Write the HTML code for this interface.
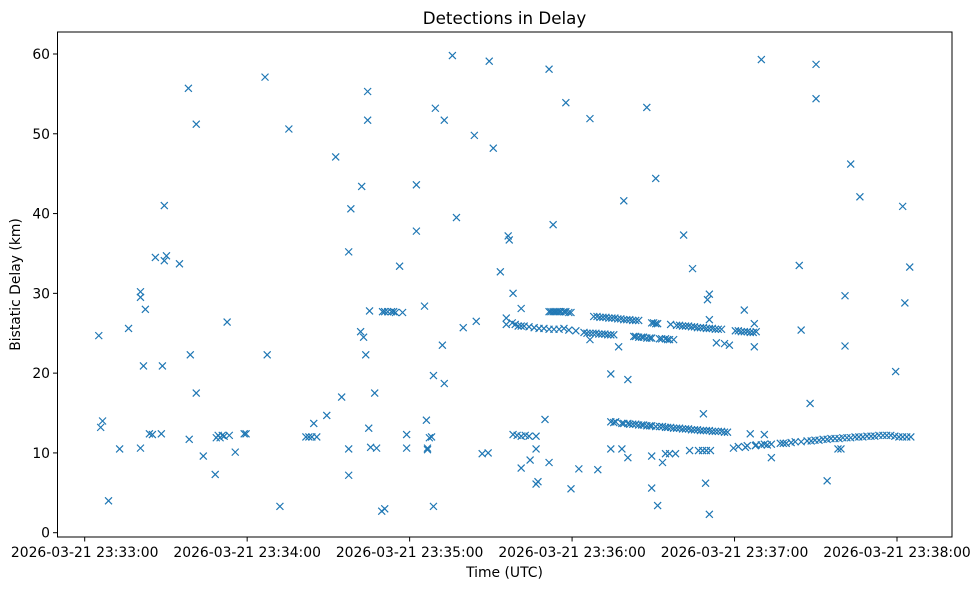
<!DOCTYPE html>
<html><head><meta charset="utf-8"><style>
html,body{margin:0;padding:0;background:#fff;}
svg{display:block;font-family:"DejaVu Sans","Liberation Sans",sans-serif;}
</style></head><body>
<svg id="chart" width="980" height="590" viewBox="0 0 980 590" xmlns="http://www.w3.org/2000/svg">
<rect x="0" y="0" width="980" height="590" fill="#fff"/>
<text x="504.5" y="24" font-size="16.7" text-anchor="middle" fill="#000">Detections in Delay</text>
<text x="504.5" y="577" font-size="13.9" text-anchor="middle" fill="#000">Time (UTC)</text>
<text x="20" y="284.5" font-size="13.9" text-anchor="middle" fill="#000" transform="rotate(-90 20 284.5)">Bistatic Delay (km)</text>
<g id="marks"></g>
<g id="axes"></g>
<rect x="57.5" y="32" width="894.5" height="505" fill="none" stroke="#000" stroke-width="1"/>
</svg>
<script>
// seconds after 2026-03-21 23:33:00
const times = [5.2,5.9,6.6,8.8,12.9,16.2,20.6,20.6,20.6,21.7,22.4,23.9,25,26.1,28.3,28.7,29.4,29.4,30.2,35,38.3,38.6,39,41.2,41.2,43.8,48.2,48.6,49.3,50,50.8,51.5,52.6,53.4,55.6,58.9,59.6,66.6,67.4,72.1,75.4,81.7,82.8,83.9,84.6,85.7,89.4,92.7,94.9,97.5,97.5,97.5,98.3,101.9,102.3,103,103.8,104.5,104.5,104.9,105.2,105.6,107.1,107.8,109.7,110.8,110,110.8,111.9,113.3,114.1,114.8,116.3,117.4,118.9,118.9,122.5,122.5,125.5,126.2,126.6,126.6,127.3,128.1,128.8,128.8,129.5,132.1,132.8,132.8,135.8,137.3,139.8,143.9,144.6,146.8,149,149.4,150.9,153.5,156.4,156.8,158.2,161.2,155.7,155.7,
158.2,159.7,161.2,162.7,164.1,166.7,161.2,164.5,166.7,166.7,167.4,170,171.5,171.5,173,177.7,179.6,182.5,186.6,189.5,194.3,200.6,194.3,198.4,200.6,199.1,197.2,186.6,207.6,210.9,209.4,209.4,211.6,213.4,214.5,216,218.2,221.2,224.5,223.4,226.7,228.2,229.6,231.1,228.5,229.3,230.7,230,230.7,230.7,233.3,236.3,238.1,243.6,247.3,247.3,239.6,244,245.8,247.7,251,253.6,249.9,263.9,264.6,267.9,270.1,270.1,274.2,282.9,286.3,280.8,280.8,278.2,279.3,302.1,304.7,302.9,299.5,
171.5,172.2,173,173.7,174.4,175.2,175.9,177,177.7,178.8,179.6,
157.9,159,160.1,161.2,162.3,164.1,166,167.8,169.6,171.5,173.3,175.2,177,178.8,181.4,
184.4,185.5,186.6,187.7,188.8,189.9,191,192.1,193.2,194.3,195.4,
188,189.2,190.3,191.4,192.5,193.6,194.7,195.8,196.9,198,199.1,200.2,201.3,202.4,203.5,204.6,209.4,210.1,210.9,211.6,
202.8,203.5,204.6,205.7,206.4,207.6,208.7,209.4,212.3,213.1,214.5,215.3,216,217.5,
216.4,218.6,219.7,220.8,221.9,223,224.1,225.2,226.3,227.4,228.5,229.6,230.7,231.8,232.9,234,235.2,
240.3,241.4,242.5,243.6,244.7,245.8,246.9,248,
194.3,195.4,196.1,198.4,199.1,200.6,201.3,202.4,203.5,204.6,205.7,206.4,207.6,208.7,209.4,210.9,212.3,213.4,214.5,215.3,216.4,217.5,218.6,219.7,220.8,221.9,223,224.1,225.2,226.3,227.4,228.5,229.6,230.7,231.8,232.9,234,235.2,236.3,237.4,
241.4,244.7,248,249.9,251,252.1,253.6,
256.9,258,259.1,260.9,262.4,264.6,266.8,268.3,269.7,271.2,272.7,274.2,275.6,277.1,278.6,280,281.5,282.9,284.5,285.9,287.4,288.9,290.4,291.8,293.3,294.8,296.2,297.7,299.2,300.7,302.1,303.6,305.1];
const delays = [24.7,13.2,14,4,10.5,25.6,10.6,29.5,30.2,20.9,28,12.4,12.3,34.5,12.4,20.9,34.1,41,34.7,33.7,55.7,11.7,22.3,51.2,17.5,9.6,7.3,11.9,12.2,11.9,12.2,12.1,26.4,12.2,10.1,12.4,12.4,57.1,22.3,3.3,50.6,12,12,12,13.7,12,14.7,47.1,17,7.2,35.2,10.5,40.6,25.2,43.4,24.5,22.3,55.3,51.7,13.1,27.8,10.7,17.5,10.6,2.7,3,27.7,27.7,27.7,27.7,27.7,27.6,33.4,27.6,12.3,10.6,43.6,37.8,28.4,14.1,10.6,10.4,11.9,12,3.3,19.7,53.2,23.5,51.7,18.7,59.8,39.5,25.7,49.8,26.5,9.9,10,59.1,48.2,32.7,37.2,36.7,30,28.1,26.9,26.1,
12.3,12.2,12.1,12.2,12.1,12.1,8.1,9.1,10.5,6.1,6.4,14.2,8.8,58.1,38.6,53.9,5.5,8.0,51.9,7.9,19.9,19.2,10.5,10.5,9.4,41.6,23.3,24.2,53.3,44.4,9.6,5.6,3.4,8.8,9.9,9.9,9.9,37.3,33.1,10.3,10.3,10.3,10.3,10.3,14.9,6.2,2.3,29.2,29.9,26.7,23.8,23.7,23.5,27.9,26.2,23.3,10.6,10.7,12.4,10.9,12.3,9.4,59.3,33.5,25.4,16.2,58.7,54.4,6.5,46.2,42.1,29.7,23.4,10.5,10.5,40.9,33.3,28.8,20.2,
27.7,27.7,27.7,27.7,27.7,27.7,27.7,27.7,27.7,27.6,27.6,
26.3,26.1,25.9,25.9,25.9,25.8,25.7,25.6,25.6,25.5,25.5,25.5,25.6,25.4,25.3,
25.1,25.0,25.0,25.0,25.0,24.9,24.9,24.9,24.8,24.8,24.8,
27.1,27.1,27,27,27,26.9,26.9,26.9,26.8,26.8,26.7,26.7,26.7,26.6,26.6,26.6,26.3,26.3,26.2,26.2,
24.6,24.6,24.5,24.5,24.5,24.4,24.4,24.4,24.3,24.3,24.3,24.2,24.2,24.2,
26.1,26,26,25.9,25.9,25.9,25.8,25.8,25.7,25.7,25.7,25.6,25.6,25.6,25.5,25.5,25.5,
25.3,25.3,25.2,25.2,25.2,25.1,25.1,25.2,
13.9,13.8,13.9,13.7,13.7,13.7,13.6,13.6,13.6,13.5,13.5,13.5,13.4,13.4,13.4,13.3,13.3,13.3,13.2,13.2,13.2,13.1,13.1,13.1,13.0,13.0,13.0,12.9,12.9,12.9,12.8,12.8,12.8,12.8,12.7,12.7,12.7,12.7,12.6,12.6,
10.8,10.9,11.0,11.0,11.1,11.0,11.1,
11.2,11.2,11.2,11.3,11.4,11.4,11.5,11.5,11.6,11.6,11.7,11.7,11.8,11.8,11.8,11.9,11.9,11.9,12.0,12.0,12.0,12.1,12.1,12.1,12.2,12.2,12.2,12.2,12.1,12.0,12.0,12.0,12.0];
const xTickValues = [0,60,120,180,240,300];
const xTickLabels = ["2026-03-21 23:33:00","2026-03-21 23:34:00","2026-03-21 23:35:00","2026-03-21 23:36:00","2026-03-21 23:37:00","2026-03-21 23:38:00"];
const yTickValues = [0,10,20,30,40,50,60];

const NS = "http://www.w3.org/2000/svg";
function xScale(s){ return 84.7 + s * (897 - 84.7) / 300; }
function yScale(v){ return 532.7 - v * (532.7 - 54) / 60; }

const marks = document.getElementById('marks');
for (let i = 0; i < times.length; i++) {
  const cx = xScale(times[i]), cy = yScale(delays[i]);
  const p = document.createElementNS(NS, 'path');
  p.setAttribute('d', `M${cx-3.5},${cy-3.5}L${cx+3.5},${cy+3.5}M${cx-3.5},${cy+3.5}L${cx+3.5},${cy-3.5}`);
  p.setAttribute('stroke', '#1f77b4');
  p.setAttribute('stroke-width', '1.2');
  p.setAttribute('fill', 'none');
  
  
  marks.appendChild(p);
}
const axes = document.getElementById('axes');
for (let i = 0; i < xTickValues.length; i++) {
  const x = xScale(xTickValues[i]);
  const l = document.createElementNS(NS, 'line');
  l.setAttribute('x1', x); l.setAttribute('x2', x); l.setAttribute('y1', 537); l.setAttribute('y2', 541.5);
  l.setAttribute('stroke', '#000');
  
  
  axes.appendChild(l);
  const t = document.createElementNS(NS, 'text');
  t.setAttribute('x', x); t.setAttribute('y', 557);
  t.setAttribute('font-size', '13.9'); t.setAttribute('text-anchor', 'middle');
  t.textContent = xTickLabels[i];
  
  
  axes.appendChild(t);
}
for (let i = 0; i < yTickValues.length; i++) {
  const y = yScale(yTickValues[i]);
  const l = document.createElementNS(NS, 'line');
  l.setAttribute('x1', 53); l.setAttribute('x2', 57.5); l.setAttribute('y1', y); l.setAttribute('y2', y);
  l.setAttribute('stroke', '#000');
  
  
  axes.appendChild(l);
  const t = document.createElementNS(NS, 'text');
  t.setAttribute('x', 50); t.setAttribute('y', y + 5);
  t.setAttribute('font-size', '13.9'); t.setAttribute('text-anchor', 'end');
  t.textContent = String(yTickValues[i]);
  
  
  axes.appendChild(t);
}
</script>
</body></html>
